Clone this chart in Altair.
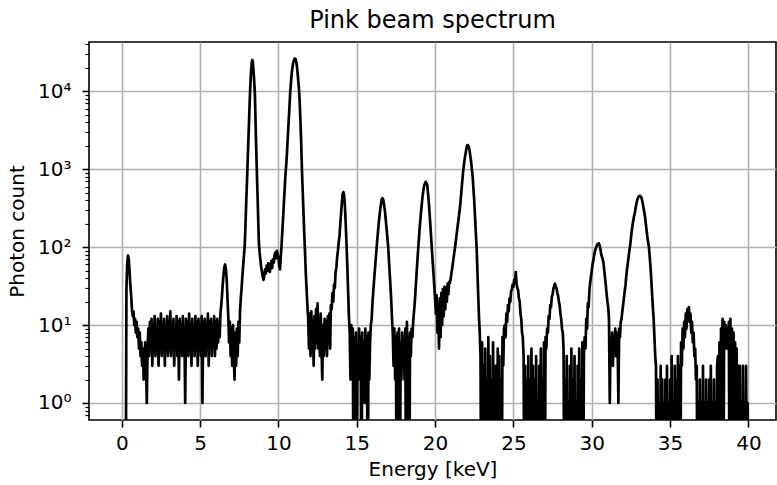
import altair as alt
import pandas as pd

# (energy keV, photon count) pairs, grouped by spectral region
start_region = [(0.0, 0), (0.1, 0), (0.2, 0), (0.25, 0), (0.3, 30), (0.35, 62), (0.4, 78), (0.45, 70),
                (0.5, 48), (0.55, 32), (0.6, 24), (0.65, 16), (0.7, 13), (0.75, 15), (0.8, 10), (0.85, 12),
                (0.9, 8), (0.95, 11), (1.0, 7), (1.05, 9), (1.1, 5), (1.15, 8), (1.2, 4), (1.25, 6),
                (1.3, 3), (1.35, 5), (1.4, 2), (1.45, 4), (1.5, 6), (1.55, 3), (1.6, 1), (1.65, 5), (1.7, 9)]
background = [(1.75, 4), (1.8, 11), (1.85, 5), (1.9, 12), (1.95, 3), (2.0, 10), (2.05, 6), (2.1, 13),
              (2.15, 4), (2.2, 9), (2.25, 5), (2.3, 12), (2.35, 3), (2.4, 11), (2.45, 6), (2.5, 14),
              (2.55, 4), (2.6, 10), (2.65, 5), (2.7, 12), (2.75, 3), (2.8, 9), (2.85, 6), (2.9, 13),
              (2.95, 4), (3.0, 11), (3.05, 5), (3.1, 15), (3.15, 4), (3.2, 10), (3.25, 6), (3.3, 12),
              (3.35, 3), (3.4, 9), (3.45, 5), (3.5, 13), (3.55, 4), (3.6, 11), (3.65, 2), (3.7, 12),
              (3.75, 5), (3.8, 10), (3.85, 4), (3.9, 13), (3.95, 6), (4.0, 9), (4.05, 1), (4.1, 12),
              (4.15, 5), (4.2, 11), (4.25, 4), (4.3, 14), (4.35, 6), (4.4, 10), (4.45, 3), (4.5, 12),
              (4.55, 5), (4.6, 9), (4.65, 4), (4.7, 13), (4.75, 6), (4.8, 11), (4.85, 3), (4.9, 12),
              (4.95, 5), (5.0, 10), (5.05, 4), (5.1, 13), (5.15, 1), (5.2, 11), (5.25, 5), (5.3, 12),
              (5.35, 4), (5.4, 9), (5.45, 6), (5.5, 14), (5.55, 3), (5.6, 11), (5.65, 5), (5.7, 12),
              (5.75, 4), (5.8, 10), (5.85, 6), (5.9, 13), (5.95, 4), (6.0, 11), (6.05, 5), (6.1, 12),
              (6.15, 6), (6.2, 10), (6.25, 7), (6.3, 14)]
peak_6_6 = [(6.35, 18), (6.4, 24), (6.45, 34), (6.5, 45), (6.55, 56), (6.6, 60), (6.65, 52), (6.7, 38),
            (6.75, 22), (6.8, 13), (6.85, 6), (6.9, 11), (6.95, 4), (7.0, 9), (7.05, 3), (7.1, 10),
            (7.15, 4), (7.2, 2), (7.25, 8), (7.3, 3), (7.35, 9), (7.4, 4), (7.45, 11), (7.5, 6), (7.55, 15)]
k_alpha = [(7.6, 22), (7.65, 30), (7.7, 42), (7.75, 58), (7.8, 78), (7.85, 105), (7.9, 200), (7.95, 400),
           (8.0, 760), (8.05, 1500), (8.1, 2950), (8.15, 5800), (8.2, 11000), (8.25, 17500), (8.3, 23800),
           (8.33, 25300), (8.36, 24500), (8.4, 19500), (8.45, 14000), (8.5, 9000), (8.55, 3400),
           (8.6, 1400), (8.65, 610), (8.7, 270), (8.75, 118), (8.8, 85)]
valley_9 = [(8.85, 68), (8.9, 55), (8.95, 48), (9.0, 42), (9.05, 38), (9.1, 44), (9.15, 52), (9.2, 46),
            (9.25, 58), (9.3, 50), (9.35, 62), (9.4, 55), (9.45, 48), (9.5, 57), (9.55, 66), (9.6, 54),
            (9.65, 70), (9.7, 63), (9.75, 78), (9.8, 85), (9.85, 72), (9.9, 90), (9.95, 80), (10.0, 74),
            (10.05, 58), (10.1, 52), (10.15, 75)]
k_beta = [(10.2, 105), (10.25, 160), (10.3, 240), (10.35, 370), (10.4, 560), (10.45, 850), (10.5, 1150),
          (10.55, 1700), (10.6, 2600), (10.65, 4000), (10.7, 6000), (10.75, 9500), (10.8, 13000),
          (10.85, 17000), (10.9, 20500), (10.95, 23500), (11.0, 25500), (11.05, 26400), (11.1, 26000),
          (11.15, 23500), (11.2, 19500), (11.25, 15000), (11.3, 11500), (11.35, 8000), (11.4, 4500),
          (11.45, 2300), (11.5, 1000), (11.55, 520), (11.6, 280), (11.65, 150), (11.7, 85), (11.75, 45),
          (11.8, 28), (11.85, 18)]
noise_12 = [(11.9, 12), (11.95, 5), (12.0, 14), (12.05, 4), (12.1, 15), (12.15, 6), (12.2, 11), (12.25, 3),
            (12.3, 13), (12.35, 5), (12.4, 16), (12.45, 6), (12.5, 19), (12.55, 5), (12.6, 12), (12.65, 4),
            (12.7, 14), (12.75, 5), (12.8, 2), (12.85, 10), (12.9, 4), (12.95, 12), (13.0, 5), (13.05, 11),
            (13.1, 4), (13.15, 13), (13.2, 6), (13.25, 14), (13.3, 5), (13.35, 18)]
peak_14 = [(13.4, 16), (13.45, 26), (13.5, 20), (13.55, 33), (13.6, 30), (13.65, 48), (13.7, 55),
           (13.75, 75), (13.8, 90), (13.85, 115), (13.9, 140), (13.95, 200), (14.0, 270), (14.05, 370),
           (14.1, 480), (14.15, 510), (14.2, 450), (14.25, 320), (14.3, 190), (14.35, 105), (14.4, 55),
           (14.45, 27), (14.5, 13)]
noise_15 = [(14.55, 8), (14.6, 2), (14.65, 10), (14.7, 3), (14.75, 9), (14.8, 0), (14.85, 7), (14.9, 2),
            (14.95, 8), (15.0, 0), (15.05, 6), (15.1, 2), (15.15, 9), (15.2, 3), (15.25, 7), (15.3, 0),
            (15.35, 8), (15.4, 2), (15.45, 6), (15.5, 1), (15.55, 9), (15.6, 3), (15.65, 7), (15.7, 0),
            (15.75, 8), (15.8, 2), (15.85, 6), (15.9, 10)]
peak_16_6 = [(15.95, 12), (16.0, 19), (16.1, 36), (16.2, 66), (16.3, 118), (16.4, 200), (16.5, 310),
             (16.6, 415), (16.65, 425), (16.7, 400), (16.8, 290), (16.9, 175), (17.0, 105), (17.1, 48),
             (17.2, 21), (17.25, 12)]
noise_17_8 = [(17.3, 8), (17.35, 3), (17.4, 9), (17.45, 2), (17.5, 7), (17.55, 0), (17.6, 8), (17.65, 3),
              (17.7, 9), (17.75, 0), (17.8, 6), (17.85, 2), (17.9, 8), (17.95, 3), (18.0, 7), (18.05, 2),
              (18.1, 9), (18.15, 0), (18.2, 11), (18.25, 3), (18.3, 7), (18.35, 0), (18.4, 8), (18.45, 4)]
peak_19_4 = [(18.5, 9), (18.55, 7), (18.6, 11), (18.7, 19), (18.8, 40), (18.9, 82), (19.0, 160),
             (19.1, 280), (19.2, 450), (19.3, 620), (19.4, 690), (19.5, 630), (19.6, 380), (19.7, 190),
             (19.8, 90), (19.9, 45), (20.0, 22)]
valley_20_5 = [(20.05, 14), (20.1, 24), (20.15, 8), (20.2, 19), (20.25, 5), (20.3, 22), (20.35, 7),
               (20.4, 26), (20.45, 10), (20.5, 29), (20.55, 13), (20.6, 31), (20.65, 16), (20.7, 30),
               (20.75, 20), (20.8, 34), (20.85, 25), (20.9, 36)]
peak_22 = [(20.95, 35), (21.0, 40), (21.1, 55), (21.2, 78), (21.3, 110), (21.4, 160), (21.5, 230),
           (21.6, 340), (21.7, 580), (21.8, 980), (21.9, 1400), (22.0, 1850), (22.05, 2050), (22.1, 2050),
           (22.15, 1950), (22.2, 1750), (22.3, 1250), (22.4, 800), (22.5, 390), (22.6, 155), (22.65, 100),
           (22.7, 51), (22.75, 25), (22.8, 13), (22.85, 8)]
noise_23_5 = [(22.9, 4), (22.95, 0), (23.0, 6), (23.05, 0), (23.1, 3), (23.15, 0), (23.2, 5), (23.25, 0),
              (23.3, 2), (23.35, 0), (23.4, 7), (23.45, 0), (23.5, 4), (23.55, 0), (23.6, 2), (23.65, 0),
              (23.7, 6), (23.75, 0), (23.8, 3), (23.85, 0), (23.9, 3), (23.95, 0), (24.0, 5), (24.05, 0),
              (24.1, 4), (24.15, 0), (24.2, 2), (24.25, 0), (24.3, 7), (24.35, 3), (24.4, 9)]
peak_25 = [(24.45, 10), (24.5, 7), (24.55, 14), (24.6, 11), (24.65, 18), (24.7, 15), (24.75, 22),
           (24.8, 20), (24.85, 27), (24.9, 29), (24.95, 33), (25.0, 31), (25.05, 38), (25.1, 36),
           (25.15, 48), (25.2, 34), (25.25, 30), (25.3, 28), (25.35, 22), (25.4, 20), (25.45, 14),
           (25.5, 12), (25.55, 8), (25.6, 7), (25.65, 4)]
noise_26_5 = [(25.7, 0), (25.75, 3), (25.8, 0), (25.85, 2), (25.9, 0), (25.95, 4), (26.0, 0), (26.05, 2),
              (26.1, 0), (26.15, 5), (26.2, 0), (26.25, 3), (26.3, 0), (26.35, 2), (26.4, 0), (26.45, 4),
              (26.5, 0), (26.55, 1), (26.6, 0), (26.65, 3), (26.7, 0), (26.75, 5), (26.8, 0), (26.85, 2),
              (26.9, 0), (26.95, 6), (27.0, 0)]
peak_27_7 = [(27.05, 7), (27.1, 5), (27.15, 9), (27.2, 8), (27.25, 13), (27.3, 12), (27.35, 18), (27.4, 17),
             (27.45, 23), (27.5, 25), (27.55, 29), (27.6, 32), (27.65, 34), (27.7, 31), (27.75, 30),
             (27.8, 26), (27.85, 24), (27.9, 20), (27.95, 18), (28.0, 14), (28.05, 12), (28.1, 9),
             (28.15, 8), (28.2, 5), (28.25, 0)]
noise_29 = [(28.3, 2), (28.35, 0), (28.4, 4), (28.45, 0), (28.5, 1), (28.55, 0), (28.6, 3), (28.65, 0),
            (28.7, 5), (28.75, 0), (28.8, 2), (28.85, 0), (28.9, 4), (28.95, 0), (29.0, 1), (29.05, 0),
            (29.1, 3), (29.15, 0), (29.2, 5), (29.25, 0), (29.3, 2), (29.35, 0), (29.4, 6), (29.45, 0),
            (29.5, 5)]
peak_30_5 = [(29.55, 7), (29.6, 5), (29.65, 12), (29.7, 9), (29.75, 19), (29.8, 17), (29.85, 28), (29.9, 35),
             (29.95, 42), (30.0, 50), (30.05, 60), (30.1, 68), (30.15, 78), (30.2, 88), (30.25, 96),
             (30.3, 102), (30.35, 108), (30.4, 111), (30.45, 112), (30.5, 105), (30.55, 95), (30.6, 82),
             (30.65, 75), (30.7, 70), (30.75, 62), (30.8, 50), (30.85, 40), (30.9, 32), (30.95, 25),
             (31.0, 20), (31.05, 17), (31.1, 12)]
valley_31_5 = [(31.15, 1), (31.2, 6), (31.25, 4), (31.3, 8), (31.35, 3), (31.4, 7), (31.45, 5), (31.5, 9),
               (31.55, 4), (31.6, 8), (31.65, 6), (31.7, 1), (31.75, 9), (31.8, 7), (31.85, 11)]
peak_33 = [(31.9, 12), (31.95, 15), (32.0, 18), (32.05, 22), (32.1, 27), (32.15, 32), (32.2, 42),
           (32.25, 52), (32.3, 62), (32.35, 75), (32.4, 90), (32.45, 105), (32.5, 130), (32.55, 160),
           (32.6, 190), (32.65, 220), (32.7, 250), (32.75, 275), (32.8, 320), (32.85, 360), (32.9, 400),
           (32.95, 430), (33.0, 448), (33.05, 455), (33.1, 452), (33.15, 440), (33.2, 410), (33.25, 370),
           (33.3, 320), (33.35, 280), (33.4, 245), (33.45, 200), (33.5, 165), (33.55, 135), (33.6, 115),
           (33.65, 100), (33.7, 75), (33.75, 55), (33.8, 38), (33.85, 25), (33.9, 17), (33.95, 12),
           (34.0, 7), (34.05, 4), (34.1, 3)]
noise_35 = [(34.15, 0), (34.2, 2), (34.25, 0), (34.3, 1), (34.35, 0), (34.4, 3), (34.45, 0), (34.5, 2),
            (34.55, 0), (34.6, 1), (34.65, 0), (34.7, 2), (34.75, 0), (34.8, 3), (34.85, 0), (34.9, 1),
            (34.95, 0), (35.0, 2), (35.05, 0), (35.1, 4), (35.15, 0), (35.2, 1), (35.25, 0), (35.3, 3),
            (35.35, 0), (35.4, 2), (35.45, 0), (35.5, 4), (35.55, 0), (35.6, 3)]
bump_36_2 = [(35.65, 0), (35.7, 6), (35.75, 3), (35.8, 9), (35.85, 5), (35.9, 11), (35.95, 7), (36.0, 14),
             (36.05, 9), (36.1, 16), (36.15, 12), (36.2, 17), (36.25, 11), (36.3, 14), (36.35, 8),
             (36.4, 11), (36.45, 6), (36.5, 8), (36.55, 4), (36.6, 5), (36.65, 2), (36.7, 3)]
noise_37_5 = [(36.75, 0), (36.8, 1), (36.85, 0), (36.9, 2), (36.95, 0), (37.0, 1), (37.05, 0), (37.1, 3),
              (37.15, 0), (37.2, 1), (37.25, 0), (37.3, 2), (37.35, 0), (37.4, 1), (37.45, 0), (37.5, 2),
              (37.55, 0), (37.6, 3), (37.65, 0), (37.7, 1), (37.75, 0), (37.8, 2), (37.85, 0), (37.9, 1),
              (37.95, 0), (38.0, 3)]
bump_38_7 = [(38.05, 4), (38.1, 0), (38.15, 6), (38.2, 0), (38.25, 9), (38.3, 0), (38.35, 12), (38.4, 0),
             (38.45, 11), (38.5, 6), (38.55, 10), (38.6, 5), (38.65, 9), (38.7, 6), (38.75, 11), (38.8, 0),
             (38.85, 12), (38.9, 0), (38.95, 9), (39.0, 0), (39.05, 8), (39.1, 0), (39.15, 6), (39.2, 0),
             (39.25, 5), (39.3, 0), (39.35, 3)]
tail_40 = [(39.4, 0), (39.45, 3), (39.5, 0), (39.55, 1), (39.6, 0), (39.65, 3), (39.7, 0), (39.75, 1),
           (39.8, 0), (39.85, 3), (39.9, 0), (39.95, 1), (40.0, 0)]

regions = [start_region, background, peak_6_6, k_alpha, valley_9, k_beta, noise_12, peak_14, noise_15,
           peak_16_6, noise_17_8, peak_19_4, valley_20_5, peak_22, noise_23_5, peak_25, noise_26_5,
           peak_27_7, noise_29, peak_30_5, valley_31_5, peak_33, noise_35, bump_36_2, noise_37_5,
           bump_38_7, tail_40]

rows = [{"energy": e, "count": c} for reg in regions for (e, c) in reg]
df = pd.DataFrame(rows).sort_values("energy").reset_index(drop=True)

x_ticks = [0, 5, 10, 15, 20, 25, 30, 35, 40]
major_y = [1, 10, 100, 1000, 10000]
minor_y = [m * d for d in [0.1, 1, 10, 100, 1000, 10000] for m in range(2, 10)]
minor_y = [v for v in minor_y if 0.61 < v < 43000]
y_ticks = sorted(set(major_y + minor_y))

FONT = "DejaVu Sans"
is_major = "indexof([1, 10, 100, 1000, 10000], datum.value) >= 0"
label_expr = ("datum.value == 1 ? '10\u2070' : datum.value == 10 ? '10\u00b9' : "
              "datum.value == 100 ? '10\u00b2' : datum.value == 1000 ? '10\u00b3' : "
              "datum.value == 10000 ? '10\u2074' : ''")

chart = (
    alt.Chart(df)
    .transform_calculate(plot_count="max(datum.count, 0.02)")
    .mark_line(color="black", strokeWidth=2.7, clip=True, strokeJoin="round", strokeCap="round")
    .encode(
        x=alt.X(
            "energy:Q",
            scale=alt.Scale(domain=[-2.09, 41.76], nice=False, zero=False),
            axis=alt.Axis(
                values=x_ticks, title="Energy [keV]", grid=True, format="d",
                labelFlush=False, labelOverlap=False, tickSize=7, labelPadding=6,
                titlePadding=6,
            ),
        ),
        y=alt.Y(
            "plot_count:Q",
            scale=alt.Scale(type="log", domain=[0.605, 43000], nice=False),
            axis=alt.Axis(
                values=y_ticks, title="Photon count", labelExpr=label_expr,
                labelOverlap=False, labelFlush=False, labelPadding=11, titlePadding=10,
                gridOpacity={"condition": {"test": is_major, "value": 1}, "value": 0},
                tickSize={"condition": {"test": is_major, "value": 7}, "value": 4},
                tickWidth={"condition": {"test": is_major, "value": 1.6}, "value": 1.2},
            ),
        ),
    )
    .properties(
        width=687,
        height=378,
        title=alt.TitleParams("Pink beam spectrum", font=FONT, fontSize=24,
                              fontWeight="normal", color="black", offset=1),
        autosize=alt.AutoSizeParams(type="none"),
        padding={"left": 89, "top": 42, "right": 1, "bottom": 65},
    )
    .configure_view(stroke="black", strokeWidth=1.6)
    .configure_axis(
        domain=False, gridColor="#b0b0b0", gridWidth=1.6, tickColor="black", tickWidth=1.6,
        labelFont=FONT, labelFontSize=20, labelColor="black",
        titleFont=FONT, titleFontSize=20, titleFontWeight="normal", titleColor="black",
    )
)

chart.save("out.html", embed_options={"renderer": "svg", "actions": False})
